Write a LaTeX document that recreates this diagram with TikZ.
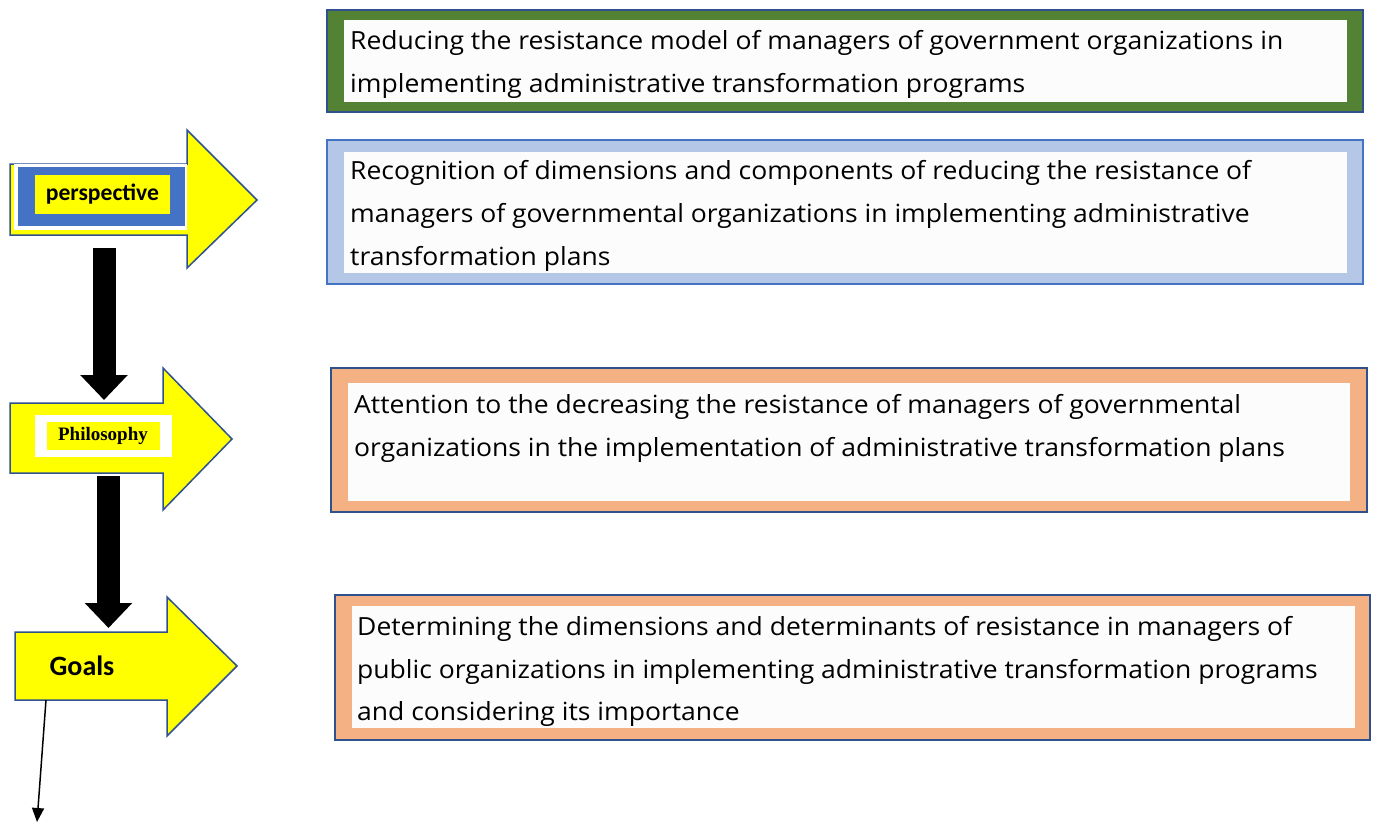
\documentclass[tikz,border=0pt]{standalone}
\usepackage{fontspec}
\setmainfont[FakeStretch=1.06]{Open Sans}
\newfontfamily\calib{Carlito}
\newfontfamily\tms{Liberation Serif}
\usetikzlibrary{arrows.meta}
\definecolor{ayellow}{HTML}{FFFF00}
\definecolor{dblue}{HTML}{2F528F}
\definecolor{mblue}{HTML}{4472C4}
\definecolor{lblue}{HTML}{B4C7E7}
\definecolor{dgreen}{HTML}{548235}
\definecolor{lorange}{HTML}{F4B183}
\definecolor{offwhite}{HTML}{FCFCFC}
\tikzset{
  outerbox/.style={draw, line width=2pt, inner sep=0pt},
  innerbox/.style={fill=offwhite, inner sep=0pt},
  boxtext/.style={anchor=base west, inner sep=0pt, font=\fontsize{25}{30}\selectfont},
  yarrow/.style={fill=ayellow, draw=dblue, line width=1.5pt, line join=miter},
  blockarrow/.style={line width=23pt, -{Triangle[width=46pt,length=25pt]}},
  thinarrow/.style={line width=1.5pt, -{Triangle[width=12pt,length=14pt]}},
}
\begin{document}
\begin{tikzpicture}[x=1pt,y=-1pt]
\useasboundingbox (0,0) rectangle (1374,823);
\fill[white] (0,0) rectangle (1374,823);

% ---- right boxes ----
\node[outerbox, draw=dblue, fill=dgreen, minimum width=1036pt, minimum height=102pt] (b1) at (845,61) {};
\node[innerbox, minimum width=1003pt, minimum height=82pt] (b1i) at (845.5,61) {};
\node[boxtext] (t1a) at (350,49) {Reducing the resistance model of managers of government organizations in};
\node[boxtext] (t1b) at (350,92) {implementing administrative transformation programs};

\node[outerbox, draw=mblue, fill=lblue, minimum width=1036pt, minimum height=144pt] (b2) at (845,212) {};
\node[innerbox, minimum width=1003pt, minimum height=121pt] (b2i) at (845.5,212.5) {};
\node[boxtext] (t2a) at (350,179) {Recognition of dimensions and components of reducing the resistance of};
\node[boxtext] (t2b) at (350,222) {managers of governmental organizations in implementing administrative};
\node[boxtext] (t2c) at (350,265) {transformation plans};

\node[outerbox, draw=dblue, fill=lorange, minimum width=1036pt, minimum height=144pt] (b3) at (849,440) {};
\node[innerbox, minimum width=1002pt, minimum height=118pt] (b3i) at (849,442) {};
\node[boxtext] (t3a) at (354,413) {Attention to the decreasing the resistance of managers of governmental};
\node[boxtext] (t3b) at (354,456) {organizations in the implementation of administrative transformation plans};

\node[outerbox, draw=dblue, fill=lorange, minimum width=1035pt, minimum height=145pt] (b4) at (852.5,667.5) {};
\node[innerbox, minimum width=1003pt, minimum height=122pt] (b4i) at (853.5,667) {};
\node[boxtext] (t4a) at (357,635) {Determining the dimensions and determinants of resistance in managers of};
\node[boxtext] (t4b) at (357,678) {public organizations in implementing administrative transformation programs};
\node[boxtext] (t4c) at (357,720) {and considering its importance};

% ---- left arrows ----
\draw[yarrow] (10,164) -- (187,164) -- (187,130) -- (257,200) -- (187,268) -- (187,235) -- (10,235) -- cycle;
\fill[white] (14,164) rectangle (187,230);
\fill[mblue] (18,167) rectangle (185,226);
\node[fill=ayellow, inner sep=0pt, minimum width=135pt, minimum height=39pt] (pbox) at (102.5,194.5) {};
\node[font=\calib\bfseries\fontsize{23.6}{28}\selectfont, inner sep=0pt] (persp) at (102.5,194) {perspective};

\draw[yarrow] (10,403) -- (163,403) -- (163,368) -- (232,439) -- (163,510) -- (163,473) -- (10,473) -- cycle;
\fill[white] (35,415) rectangle (172,457);
\node[fill=ayellow, inner sep=0pt, minimum width=113pt, minimum height=28pt] (phbox) at (103.5,436) {};
\node[font=\tms\bfseries\fontsize{19}{22}\selectfont, inner sep=0pt] (philo) at (103,436) {Philosophy};

\draw[yarrow] (15,632) -- (167,632) -- (167,597) -- (237,666) -- (167,736) -- (167,700) -- (15,700) -- cycle;
\node[font=\calib\bfseries\fontsize{28}{32}\selectfont, inner sep=0pt] (goals) at (82,666) {Goals};

% ---- connectors ----
\coordinate (c1s) at (104,248);
\coordinate (c1e) at (104,400);
\draw[blockarrow] (c1s) -- (c1e);
\coordinate (c2s) at (108.5,476);
\coordinate (c2e) at (108.5,628);
\draw[blockarrow] (c2s) -- (c2e);
\coordinate (g0) at (46,700);
\coordinate (gend) at (37,822);
\draw[thinarrow] (g0) -- (gend);
\end{tikzpicture}
\end{document}
